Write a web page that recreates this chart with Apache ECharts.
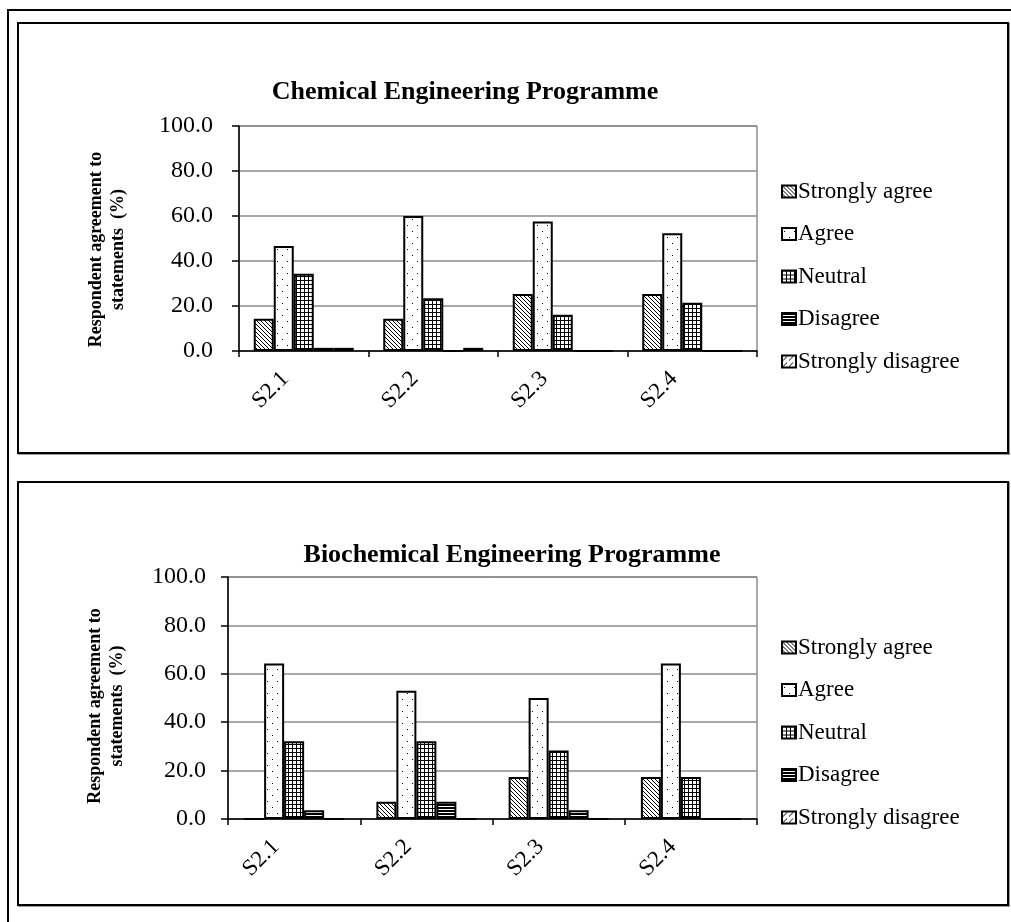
<!DOCTYPE html>
<html>
<head>
<meta charset="utf-8">
<script src="https://cdn.jsdelivr.net/npm/echarts@6/dist/echarts.min.js"></script>
<style>
html,body{margin:0;padding:0;background:#fff;}
#wrap{position:relative;width:1011px;height:922px;overflow:hidden;background:#fff;}
.frame{position:absolute;box-sizing:border-box;border:2px solid #000;box-shadow:1px 1px 0 #999;}
#chart{position:absolute;left:0;top:0;width:1011px;height:922px;}
</style>
</head>
<body>
<div id="wrap">
  <div class="frame" style="left:7px;top:9px;width:1100px;height:1000px;"></div>
  <div class="frame" style="left:17px;top:22px;width:992px;height:432px;"></div>
  <div class="frame" style="left:17px;top:481px;width:992px;height:425px;"></div>
  <div id="chart"></div>
</div>
<script>
// ---- data ----
const categories = ['S2.1', 'S2.2', 'S2.3', 'S2.4'];
const seriesNames = ['Strongly agree', 'Agree', 'Neutral', 'Disagree', 'Strongly disagree'];
const yTicks = [0, 20, 40, 60, 80, 100];
const titles = ['Chemical Engineering Programme', 'Biochemical Engineering Programme'];
const yAxisName = 'Respondent agreement to\nstatements  (%)';

const chemStronglyAgree    = [14.3, 14.3, 25.3, 25.3];
const chemAgree            = [46.7, 60.0, 57.6, 52.3];
const chemNeutral          = [34.3, 23.4, 16.1, 21.5];
const chemDisagree         = [1.4, 0, 0, 0];
const chemStronglyDisagree = [1.4, 1.4, 0, 0];

const bioStronglyAgree     = [0, 7.1, 17.4, 17.4];
const bioAgree             = [64.3, 53.0, 50.0, 64.3];
const bioNeutral           = [32.1, 32.1, 28.3, 17.4];
const bioDisagree          = [3.6, 7.1, 3.6, 0];
const bioStronglyDisagree  = [0, 0, 0, 0];

// ---- patterns ----
function makeCanvas(w, h, draw) {
  const c = document.createElement('canvas');
  c.width = w; c.height = h;
  const g = c.getContext('2d');
  g.fillStyle = '#fff'; g.fillRect(0, 0, w, h);
  g.fillStyle = '#000';
  draw(g);
  return c;
}
const patterns = [
  makeCanvas(4, 4, g => { for (let i = 0; i < 4; i++) g.fillRect(i, i, 1, 1); }),
  makeCanvas(10, 12, g => { g.fillRect(2, 3, 1, 1); g.fillRect(7, 9, 1, 1); }),
  makeCanvas(4, 4, g => { g.fillRect(0, 0, 4, 1); g.fillRect(0, 0, 1, 4); }),
  makeCanvas(4, 3, g => { g.fillRect(0, 0, 4, 2); }),
  makeCanvas(6, 6, g => { g.fillRect(1, 4, 1, 1); g.fillRect(2, 3, 1, 1); g.fillRect(3, 2, 1, 1); g.fillRect(4, 1, 1, 1); })
].map(c => ({ image: c, repeat: 'repeat' }));

const serif = '"Liberation Serif", "Times New Roman", serif';
const chemData = [chemStronglyAgree, chemAgree, chemNeutral, chemDisagree, chemStronglyDisagree];
const bioData = [bioStronglyAgree, bioAgree, bioNeutral, bioDisagree, bioStronglyDisagree];

const grids = [
  { left: 239, right: 254, top: 126, bottom: 571 },
  { left: 228, right: 254, top: 577, bottom: 103 }
];
const yLabelMargins = [26, 22];
const yNameGaps = [110, 100];
const yNamePads = [[0, 22, 0, 0], [0, 16, 0, 0]];
const titlePos = [{ cx: 460, top: 74 }, { cx: 507, top: 537 }];
const legendTops = [175, 631];

const option = {
  animation: false,
  title: titles.map((t, i) => ({
    text: t, left: titlePos[i].cx, top: titlePos[i].top, textAlign: 'center',
    textStyle: { fontFamily: serif, fontWeight: 'bold', fontSize: 26, color: '#000' }
  })),
  legend: [0, 1].map(i => ({
    data: seriesNames, orient: 'vertical', left: 776, top: legendTops[i],
    itemWidth: 14, itemHeight: 12, itemGap: 19.5, icon: 'rect',
    itemStyle: { borderColor: '#000', borderWidth: 2 },
    textStyle: { fontFamily: serif, fontSize: 23, color: '#000', lineHeight: 23, padding: [0, 0, 0, -3] },
    selectedMode: false
  })),
  grid: grids.map(g => Object.assign({ show: true, borderColor: '#555', borderWidth: 1, containLabel: false }, g)),
  xAxis: [0, 1].map(i => ({
    type: 'category', gridIndex: i, data: categories, boundaryGap: true,
    axisLine: { lineStyle: { color: '#000', width: 1.5 } },
    axisTick: { show: true, length: 6, lineStyle: { color: '#000', width: 1.5 } },
    axisLabel: { rotate: 45, margin: 6, padding: [0, 26, 0, 0], fontFamily: serif, fontSize: 23, color: '#000' },
    splitLine: { show: false }
  })),
  yAxis: [0, 1].map(i => ({
    type: 'value', gridIndex: i, min: 0, max: 100, interval: 20,
    name: yAxisName, nameLocation: 'middle', nameGap: yNameGaps[i],
    nameTextStyle: { fontFamily: serif, fontWeight: 'bold', fontSize: 18, color: '#000', lineHeight: 22, padding: yNamePads[i] },
    axisLine: { show: true, lineStyle: { color: '#000', width: 1.5 } },
    axisTick: { show: true, length: 7, lineStyle: { color: '#000', width: 1.5 } },
    axisLabel: { margin: yLabelMargins[i], fontFamily: serif, fontSize: 24, color: '#000',
      formatter: v => yTicks.includes(v) ? v.toFixed(1) : '' },
    splitLine: { show: true, lineStyle: { color: '#8c8c8c', width: 1.5 } }
  })),
  series: []
};

[chemData, bioData].forEach((set, gi) => {
  set.forEach((vals, si) => {
    option.series.push({
      type: 'bar', name: seriesNames[si], xAxisIndex: gi, yAxisIndex: gi,
      data: vals, barWidth: 20, barGap: '0%',
      itemStyle: { color: patterns[si], borderColor: '#000', borderWidth: 2 },
      emphasis: { disabled: true }
    });
  });
});

const chart = echarts.init(document.getElementById('chart'), null, { renderer: 'canvas' });
chart.setOption(option);
</script>
</body>
</html>
